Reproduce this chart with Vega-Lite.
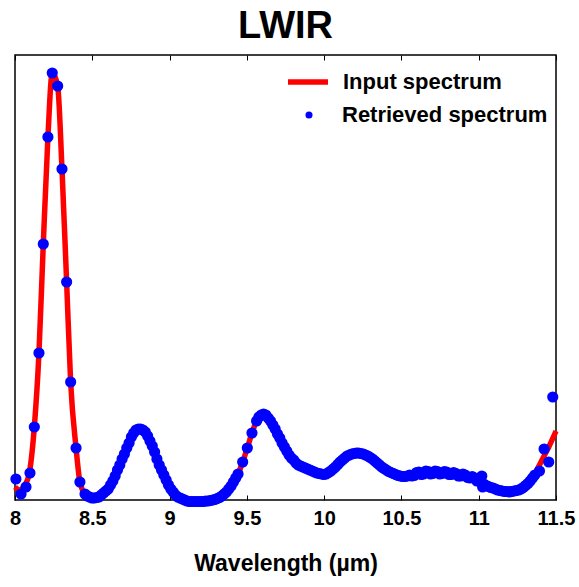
{
  "$schema": "https://vega.github.io/schema/vega-lite/v6.json",
  "width": 541,
  "height": 445,
  "autosize": {"type": "none"},
  "padding": {"left": 15, "top": 55, "right": 23, "bottom": 87},
  "background": "white",
  "config": {
    "view": {"stroke": "black", "strokeWidth": 1.5},
    "font": "Liberation Sans"
  },
  "title": {
    "text": "LWIR",
    "font": "Liberation Sans",
    "fontSize": 38,
    "fontWeight": "bold",
    "color": "black",
    "anchor": "middle",
    "frame": "group",
    "baseline": "alphabetic",
    "offset": 15,
    "dy": 36
  },
  "datasets": {
    "input": [
      {"wavelength": 8.0, "intensity": 13}, {"wavelength": 8.03, "intensity": 10}, {"wavelength": 8.06, "intensity": 14},
      {"wavelength": 8.09, "intensity": 25}, {"wavelength": 8.125, "intensity": 73}, {"wavelength": 8.155, "intensity": 147},
      {"wavelength": 8.183, "intensity": 256}, {"wavelength": 8.213, "intensity": 363}, {"wavelength": 8.241, "intensity": 427},
      {"wavelength": 8.276, "intensity": 414}, {"wavelength": 8.304, "intensity": 331}, {"wavelength": 8.334, "intensity": 218},
      {"wavelength": 8.36, "intensity": 118}, {"wavelength": 8.395, "intensity": 52}, {"wavelength": 8.42, "intensity": 18},
      {"wavelength": 8.453, "intensity": 6}, {"wavelength": 8.483, "intensity": 3}, {"wavelength": 8.513, "intensity": 2},
      {"wavelength": 8.543, "intensity": 3}, {"wavelength": 8.573, "intensity": 7}, {"wavelength": 8.603, "intensity": 11},
      {"wavelength": 8.633, "intensity": 19}, {"wavelength": 8.663, "intensity": 30}, {"wavelength": 8.693, "intensity": 41},
      {"wavelength": 8.723, "intensity": 52}, {"wavelength": 8.753, "intensity": 63}, {"wavelength": 8.783, "intensity": 70},
      {"wavelength": 8.813, "intensity": 71}, {"wavelength": 8.843, "intensity": 68}, {"wavelength": 8.873, "intensity": 59},
      {"wavelength": 8.903, "intensity": 48}, {"wavelength": 8.933, "intensity": 35}, {"wavelength": 8.963, "intensity": 25},
      {"wavelength": 8.993, "intensity": 15}, {"wavelength": 9.023, "intensity": 8}, {"wavelength": 9.053, "intensity": 3},
      {"wavelength": 9.083, "intensity": 1}, {"wavelength": 9.113, "intensity": -1}, {"wavelength": 9.143, "intensity": -1.5},
      {"wavelength": 9.173, "intensity": -1.5}, {"wavelength": 9.203, "intensity": -1.5}, {"wavelength": 9.233, "intensity": -1},
      {"wavelength": 9.263, "intensity": -0.5}, {"wavelength": 9.293, "intensity": 0.5}, {"wavelength": 9.323, "intensity": 2.5},
      {"wavelength": 9.353, "intensity": 6}, {"wavelength": 9.383, "intensity": 11}, {"wavelength": 9.413, "intensity": 18},
      {"wavelength": 9.443, "intensity": 26}, {"wavelength": 9.473, "intensity": 38}, {"wavelength": 9.503, "intensity": 52},
      {"wavelength": 9.533, "intensity": 67}, {"wavelength": 9.563, "intensity": 79}, {"wavelength": 9.593, "intensity": 85},
      {"wavelength": 9.623, "intensity": 85}, {"wavelength": 9.653, "intensity": 79}, {"wavelength": 9.683, "intensity": 71},
      {"wavelength": 9.713, "intensity": 62}, {"wavelength": 9.743, "intensity": 53}, {"wavelength": 9.773, "intensity": 45},
      {"wavelength": 9.803, "intensity": 40}, {"wavelength": 9.833, "intensity": 35}, {"wavelength": 9.863, "intensity": 33},
      {"wavelength": 9.893, "intensity": 31}, {"wavelength": 9.923, "intensity": 29}, {"wavelength": 9.953, "intensity": 27},
      {"wavelength": 9.983, "intensity": 26}, {"wavelength": 10.013, "intensity": 26}, {"wavelength": 10.043, "intensity": 29},
      {"wavelength": 10.073, "intensity": 33}, {"wavelength": 10.103, "intensity": 38}, {"wavelength": 10.133, "intensity": 42},
      {"wavelength": 10.163, "intensity": 45}, {"wavelength": 10.193, "intensity": 46.5}, {"wavelength": 10.223, "intensity": 47},
      {"wavelength": 10.253, "intensity": 46}, {"wavelength": 10.283, "intensity": 44}, {"wavelength": 10.313, "intensity": 41},
      {"wavelength": 10.343, "intensity": 37}, {"wavelength": 10.373, "intensity": 33}, {"wavelength": 10.403, "intensity": 30},
      {"wavelength": 10.433, "intensity": 27.5}, {"wavelength": 10.463, "intensity": 25.5}, {"wavelength": 10.493, "intensity": 24},
      {"wavelength": 10.523, "intensity": 23.5}, {"wavelength": 10.553, "intensity": 24}, {"wavelength": 10.583, "intensity": 25.5},
      {"wavelength": 10.613, "intensity": 26.5}, {"wavelength": 10.643, "intensity": 27}, {"wavelength": 10.673, "intensity": 27.5},
      {"wavelength": 10.703, "intensity": 27.5}, {"wavelength": 10.733, "intensity": 27.5}, {"wavelength": 10.763, "intensity": 27.5},
      {"wavelength": 10.793, "intensity": 27}, {"wavelength": 10.823, "intensity": 26.5}, {"wavelength": 10.853, "intensity": 25.5},
      {"wavelength": 10.883, "intensity": 25}, {"wavelength": 10.913, "intensity": 24}, {"wavelength": 10.943, "intensity": 23},
      {"wavelength": 10.973, "intensity": 22}, {"wavelength": 11.003, "intensity": 20}, {"wavelength": 11.033, "intensity": 16},
      {"wavelength": 11.063, "intensity": 13.5}, {"wavelength": 11.093, "intensity": 12}, {"wavelength": 11.123, "intensity": 10},
      {"wavelength": 11.153, "intensity": 9}, {"wavelength": 11.183, "intensity": 8.5}, {"wavelength": 11.213, "intensity": 8.5},
      {"wavelength": 11.243, "intensity": 9.5}, {"wavelength": 11.273, "intensity": 11}, {"wavelength": 11.303, "intensity": 14.5},
      {"wavelength": 11.333, "intensity": 19}, {"wavelength": 11.363, "intensity": 26}, {"wavelength": 11.393, "intensity": 35},
      {"wavelength": 11.423, "intensity": 44}, {"wavelength": 11.453, "intensity": 53}, {"wavelength": 11.483, "intensity": 63},
      {"wavelength": 11.5, "intensity": 69}
    ],
    "retrieved": [
      {"wavelength": 8.006, "intensity": 21}, {"wavelength": 8.039, "intensity": 6}, {"wavelength": 8.071, "intensity": 13},
      {"wavelength": 8.097, "intensity": 27}, {"wavelength": 8.125, "intensity": 73}, {"wavelength": 8.155, "intensity": 147},
      {"wavelength": 8.183, "intensity": 256}, {"wavelength": 8.213, "intensity": 363}, {"wavelength": 8.241, "intensity": 427},
      {"wavelength": 8.276, "intensity": 414}, {"wavelength": 8.304, "intensity": 331}, {"wavelength": 8.334, "intensity": 218},
      {"wavelength": 8.36, "intensity": 118}, {"wavelength": 8.395, "intensity": 52}, {"wavelength": 8.42, "intensity": 18},
      {"wavelength": 8.453, "intensity": 6}, {"wavelength": 8.468, "intensity": 4}, {"wavelength": 8.483, "intensity": 3}, {"wavelength": 8.498, "intensity": 2}, {"wavelength": 8.513, "intensity": 2},
      {"wavelength": 8.528, "intensity": 2.5}, {"wavelength": 8.543, "intensity": 3}, {"wavelength": 8.558, "intensity": 5}, {"wavelength": 8.573, "intensity": 7}, {"wavelength": 8.588, "intensity": 9}, {"wavelength": 8.603, "intensity": 11},
      {"wavelength": 8.618, "intensity": 15}, {"wavelength": 8.633, "intensity": 19}, {"wavelength": 8.648, "intensity": 24}, {"wavelength": 8.663, "intensity": 30}, {"wavelength": 8.678, "intensity": 35}, {"wavelength": 8.693, "intensity": 41},
      {"wavelength": 8.708, "intensity": 46}, {"wavelength": 8.723, "intensity": 52}, {"wavelength": 8.738, "intensity": 57}, {"wavelength": 8.753, "intensity": 63}, {"wavelength": 8.768, "intensity": 67}, {"wavelength": 8.783, "intensity": 70},
      {"wavelength": 8.798, "intensity": 71}, {"wavelength": 8.813, "intensity": 71}, {"wavelength": 8.828, "intensity": 70}, {"wavelength": 8.843, "intensity": 68}, {"wavelength": 8.858, "intensity": 64}, {"wavelength": 8.873, "intensity": 59},
      {"wavelength": 8.888, "intensity": 54}, {"wavelength": 8.903, "intensity": 48}, {"wavelength": 8.918, "intensity": 41}, {"wavelength": 8.933, "intensity": 35}, {"wavelength": 8.948, "intensity": 30}, {"wavelength": 8.963, "intensity": 25},
      {"wavelength": 8.978, "intensity": 20}, {"wavelength": 8.993, "intensity": 15}, {"wavelength": 9.008, "intensity": 11}, {"wavelength": 9.023, "intensity": 8}, {"wavelength": 9.038, "intensity": 5}, {"wavelength": 9.053, "intensity": 3},
      {"wavelength": 9.068, "intensity": 2}, {"wavelength": 9.083, "intensity": 1}, {"wavelength": 9.098, "intensity": 0}, {"wavelength": 9.113, "intensity": -1}, {"wavelength": 9.128, "intensity": -1.5}, {"wavelength": 9.143, "intensity": -1.5},
      {"wavelength": 9.158, "intensity": -1.5}, {"wavelength": 9.173, "intensity": -1.5}, {"wavelength": 9.188, "intensity": -1.5}, {"wavelength": 9.203, "intensity": -1.5}, {"wavelength": 9.218, "intensity": -1.5}, {"wavelength": 9.233, "intensity": -1},
      {"wavelength": 9.248, "intensity": -1}, {"wavelength": 9.263, "intensity": -0.5}, {"wavelength": 9.278, "intensity": 0}, {"wavelength": 9.293, "intensity": 0.5}, {"wavelength": 9.308, "intensity": 1.5}, {"wavelength": 9.323, "intensity": 2.5},
      {"wavelength": 9.338, "intensity": 4}, {"wavelength": 9.353, "intensity": 6}, {"wavelength": 9.368, "intensity": 8}, {"wavelength": 9.383, "intensity": 11}, {"wavelength": 9.398, "intensity": 14}, {"wavelength": 9.413, "intensity": 18},
      {"wavelength": 9.428, "intensity": 22}, {"wavelength": 9.443, "intensity": 26}, {"wavelength": 9.473, "intensity": 38}, {"wavelength": 9.503, "intensity": 52},
      {"wavelength": 9.533, "intensity": 67}, {"wavelength": 9.563, "intensity": 79}, {"wavelength": 9.578, "intensity": 83}, {"wavelength": 9.593, "intensity": 85}, {"wavelength": 9.608, "intensity": 86},
      {"wavelength": 9.623, "intensity": 85}, {"wavelength": 9.638, "intensity": 82}, {"wavelength": 9.653, "intensity": 79}, {"wavelength": 9.668, "intensity": 75}, {"wavelength": 9.683, "intensity": 71},
      {"wavelength": 9.698, "intensity": 66}, {"wavelength": 9.713, "intensity": 62}, {"wavelength": 9.728, "intensity": 57}, {"wavelength": 9.743, "intensity": 53}, {"wavelength": 9.758, "intensity": 49}, {"wavelength": 9.773, "intensity": 45},
      {"wavelength": 9.788, "intensity": 42}, {"wavelength": 9.803, "intensity": 40}, {"wavelength": 9.818, "intensity": 37}, {"wavelength": 9.833, "intensity": 35}, {"wavelength": 9.848, "intensity": 34}, {"wavelength": 9.863, "intensity": 33},
      {"wavelength": 9.878, "intensity": 32}, {"wavelength": 9.893, "intensity": 31}, {"wavelength": 9.908, "intensity": 30}, {"wavelength": 9.923, "intensity": 29}, {"wavelength": 9.938, "intensity": 28}, {"wavelength": 9.953, "intensity": 27},
      {"wavelength": 9.968, "intensity": 26.5}, {"wavelength": 9.983, "intensity": 26}, {"wavelength": 9.998, "intensity": 25.5}, {"wavelength": 10.013, "intensity": 26}, {"wavelength": 10.028, "intensity": 27.5}, {"wavelength": 10.043, "intensity": 29},
      {"wavelength": 10.058, "intensity": 31}, {"wavelength": 10.073, "intensity": 33}, {"wavelength": 10.088, "intensity": 35.5}, {"wavelength": 10.103, "intensity": 38}, {"wavelength": 10.118, "intensity": 40}, {"wavelength": 10.133, "intensity": 42},
      {"wavelength": 10.148, "intensity": 44}, {"wavelength": 10.163, "intensity": 45}, {"wavelength": 10.178, "intensity": 46}, {"wavelength": 10.193, "intensity": 46.5}, {"wavelength": 10.208, "intensity": 47}, {"wavelength": 10.223, "intensity": 47},
      {"wavelength": 10.238, "intensity": 46.5}, {"wavelength": 10.253, "intensity": 46}, {"wavelength": 10.268, "intensity": 45}, {"wavelength": 10.283, "intensity": 44}, {"wavelength": 10.298, "intensity": 42.5}, {"wavelength": 10.313, "intensity": 41},
      {"wavelength": 10.328, "intensity": 39}, {"wavelength": 10.343, "intensity": 37}, {"wavelength": 10.358, "intensity": 35}, {"wavelength": 10.373, "intensity": 33}, {"wavelength": 10.388, "intensity": 31.5}, {"wavelength": 10.403, "intensity": 30},
      {"wavelength": 10.418, "intensity": 28.5}, {"wavelength": 10.433, "intensity": 27.5}, {"wavelength": 10.448, "intensity": 26.5}, {"wavelength": 10.463, "intensity": 25.5}, {"wavelength": 10.478, "intensity": 24.5}, {"wavelength": 10.493, "intensity": 24},
      {"wavelength": 10.508, "intensity": 23.5}, {"wavelength": 10.523, "intensity": 23.5}, {"wavelength": 10.538, "intensity": 24}, {"wavelength": 10.553, "intensity": 25}, {"wavelength": 10.568, "intensity": 24}, {"wavelength": 10.583, "intensity": 24.5},
      {"wavelength": 10.598, "intensity": 27.5}, {"wavelength": 10.613, "intensity": 28}, {"wavelength": 10.628, "intensity": 25.5}, {"wavelength": 10.643, "intensity": 26}, {"wavelength": 10.658, "intensity": 29}, {"wavelength": 10.673, "intensity": 28.5},
      {"wavelength": 10.688, "intensity": 26}, {"wavelength": 10.703, "intensity": 26.5}, {"wavelength": 10.718, "intensity": 29}, {"wavelength": 10.733, "intensity": 28.5}, {"wavelength": 10.748, "intensity": 26}, {"wavelength": 10.763, "intensity": 26.5},
      {"wavelength": 10.778, "intensity": 28.5}, {"wavelength": 10.793, "intensity": 28}, {"wavelength": 10.808, "intensity": 25.5}, {"wavelength": 10.823, "intensity": 25.5}, {"wavelength": 10.838, "intensity": 27.5}, {"wavelength": 10.853, "intensity": 26.5},
      {"wavelength": 10.868, "intensity": 24}, {"wavelength": 10.883, "intensity": 24}, {"wavelength": 10.898, "intensity": 26}, {"wavelength": 10.913, "intensity": 25}, {"wavelength": 10.928, "intensity": 22.5}, {"wavelength": 10.943, "intensity": 22},
      {"wavelength": 10.958, "intensity": 23.5}, {"wavelength": 10.973, "intensity": 22}, {"wavelength": 10.988, "intensity": 19}, {"wavelength": 11.003, "intensity": 19}, {"wavelength": 11.02, "intensity": 24},
      {"wavelength": 11.025, "intensity": 13}, {"wavelength": 11.033, "intensity": 16}, {"wavelength": 11.048, "intensity": 14.5},
      {"wavelength": 11.063, "intensity": 13.5}, {"wavelength": 11.078, "intensity": 12.5}, {"wavelength": 11.093, "intensity": 12}, {"wavelength": 11.108, "intensity": 11}, {"wavelength": 11.123, "intensity": 10}, {"wavelength": 11.138, "intensity": 9.5},
      {"wavelength": 11.153, "intensity": 9}, {"wavelength": 11.168, "intensity": 8.5}, {"wavelength": 11.183, "intensity": 8.5}, {"wavelength": 11.198, "intensity": 8}, {"wavelength": 11.213, "intensity": 8.5}, {"wavelength": 11.228, "intensity": 9},
      {"wavelength": 11.243, "intensity": 9.5}, {"wavelength": 11.258, "intensity": 10}, {"wavelength": 11.273, "intensity": 11}, {"wavelength": 11.288, "intensity": 12.5}, {"wavelength": 11.303, "intensity": 14.5}, {"wavelength": 11.318, "intensity": 16.5},
      {"wavelength": 11.333, "intensity": 19}, {"wavelength": 11.348, "intensity": 22}, {"wavelength": 11.363, "intensity": 25}, {"wavelength": 11.393, "intensity": 29},
      {"wavelength": 11.423, "intensity": 51}, {"wavelength": 11.453, "intensity": 38}, {"wavelength": 11.479, "intensity": 103}
    ]
  },
  "resolve": {"axis": {"x": "independent"}},
  "layer": [
    {
      "data": {"name": "input"},
      "mark": {"type": "line", "strokeWidth": 5.5, "interpolate": "monotone", "clip": false},
      "encoding": {
        "x": {
          "field": "wavelength", "type": "quantitative",
          "scale": {"domain": [8, 11.5], "nice": false, "zero": false},
          "axis": {
            "orient": "bottom",
            "title": "Wavelength (µm)",
            "values": [8, 8.5, 9, 9.5, 10, 10.5, 11, 11.5],
            "format": "~g",
            "domain": false,
            "ticks": true,
            "tickSize": -5,
            "tickColor": "black",
            "tickWidth": 1,
            "grid": false,
            "labelFont": "Liberation Sans",
            "labelFontSize": 20,
            "labelFontWeight": "bold",
            "labelColor": "black",
            "labelPadding": 13,
            "labelFlush": false,
            "labelOverlap": false,
            "titleFont": "Liberation Sans",
            "titleFontSize": 23,
            "titleFontWeight": "bold",
            "titleColor": "black",
            "titlePadding": 24
          }
        },
        "y": {
          "field": "intensity", "type": "quantitative",
          "scale": {"domain": [0, 445], "nice": false, "zero": false},
          "axis": null
        },
        "stroke": {
          "datum": "Input spectrum",
          "type": "nominal",
          "scale": {"domain": ["Input spectrum"], "range": ["#ff0000"]},
          "legend": {
            "title": null,
            "orient": "none",
            "legendX": 270,
            "legendY": 4,
            "labelFont": "Liberation Sans",
            "labelFontSize": 22,
            "labelFontWeight": "bold",
            "labelColor": "black",
            "labelOffset": 12,
            "labelLimit": 300,
            "symbolType": "stroke",
            "symbolSize": 1600,
            "symbolStrokeWidth": 5.5,
            "symbolStrokeColor": "#ff0000"
          }
        }
      }
    },
    {
      "data": {"name": "retrieved"},
      "mark": {"type": "point", "filled": true, "size": 125, "opacity": 1, "clip": false},
      "encoding": {
        "x": {
          "field": "wavelength", "type": "quantitative",
          "axis": {
            "orient": "top",
            "title": null,
            "values": [8, 8.5, 9, 9.5, 10, 10.5, 11, 11.5],
            "labels": false,
            "domain": false,
            "grid": false,
            "ticks": true,
            "tickSize": -5,
            "tickColor": "black",
            "tickWidth": 1
          }
        },
        "y": {"field": "intensity", "type": "quantitative"},
        "fill": {
          "datum": "Retrieved spectrum",
          "type": "nominal",
          "scale": {"domain": ["Retrieved spectrum"], "range": ["#0000ff"]},
          "legend": {
            "title": null,
            "orient": "none",
            "legendX": 283,
            "legendY": 49,
            "labelFont": "Liberation Sans",
            "labelFontSize": 22,
            "labelFontWeight": "bold",
            "labelColor": "black",
            "labelOffset": 22,
            "labelLimit": 300,
            "symbolType": "circle",
            "symbolSize": 50,
            "symbolOpacity": 1
          }
        }
      }
    }
  ]
}
